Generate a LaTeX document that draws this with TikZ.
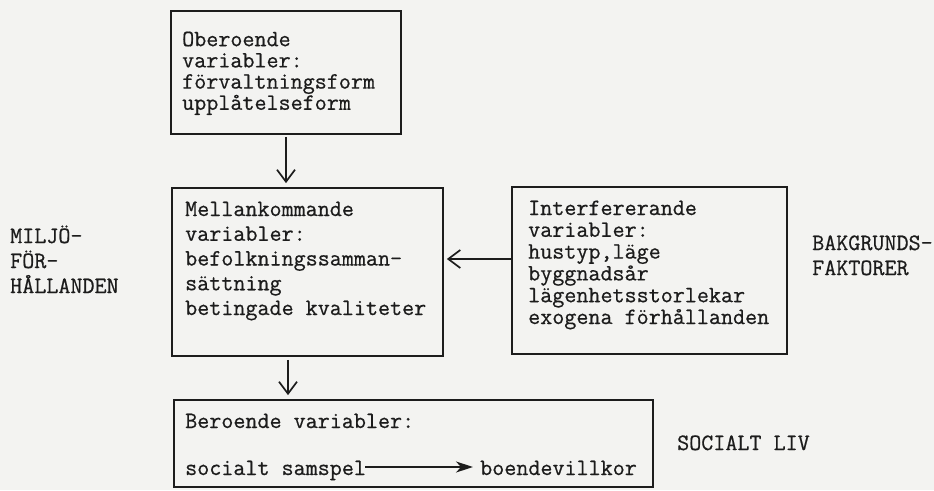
\documentclass[tikz,border=0pt]{standalone}
\usepackage{fontspec}
\usetikzlibrary{arrows.meta}
\definecolor{paper}{HTML}{F3F3F1}
\definecolor{ink}{HTML}{1C1C1C}
\newfontfamily\typewr{lmmono12-regular.otf}[FakeBold=0.6]
\newcommand\tyfont{\typewr\fontsize{23.4}{23}\selectfont}
\newcommand\stacklines[2]{\vtop{\baselineskip=#1\lineskiplimit=-\maxdimen\lineskip=0pt #2}}
\tikzset{
  box/.style={draw=ink, line width=1.8pt, rectangle, inner sep=0pt},
  txt/.style={anchor=base west, inner sep=0pt, font=\tyfont, text=ink},
  flow/.style={draw=ink, line width=1.7pt, -{Straight Barb[length=12pt,width=18pt,line width=1.7pt]}},
  inflow/.style={draw=ink, line width=1.4pt, -{Stealth[length=17pt,width=11pt,inset=5pt]}},
}
\begin{document}
\begin{tikzpicture}[x=1pt,y=-1pt]
\fill[paper] (0,0) rectangle (934,490);
\useasboundingbox (0,0) rectangle (934,490);

% boxes
\node[box, minimum width=230pt, minimum height=123pt] (top) at (286,72.5) {};
\node[box, minimum width=271pt, minimum height=168pt] (mid) at (307.5,272) {};
\node[box, minimum width=275pt, minimum height=167pt] (right) at (649.5,270.5) {};
\node[box, minimum width=479pt, minimum height=87pt] (bot) at (413.5,443.5) {};

% box texts
\node[txt] (toptext) at (182,46.2) {\stacklines{21.2pt}{\hbox{Oberoende}\hbox{variabler:}\hbox{förvaltningsform}\hbox{upplåtelseform}}};
\node[txt] (midtext) at (185,216) {\stacklines{24.75pt}{\hbox{Mellankommande}\hbox{variabler:}\hbox{befolkningssamman-}\hbox{sättning}\hbox{betingade kvaliteter}}};
\node[txt] (righttext) at (528,215) {\stacklines{21.8pt}{\hbox{Interfererande}\hbox{variabler:}\hbox{hustyp,läge}\hbox{byggnadsår}\hbox{lägenhetsstorlekar}\hbox{exogena förhållanden}}};
\node[txt] (bothead) at (185,428) {Beroende variabler:};
\node[txt] (ss) at (185,475) {socialt samspel};
\node[txt] (bv) at (480,475) {boendevillkor};

% side labels
\node[txt] (miljo) at (10,243) {\stacklines{25pt}{\hbox{MILJÖ-}\hbox{FÖR-}\hbox{HÅLLANDEN}}};
\node[txt] (bakgr) at (812,250) {\stacklines{25pt}{\hbox{BAKGRUNDS-}\hbox{FAKTORER}}};
\node[txt] (social) at (677,450) {SOCIALT LIV};

% connectors
\draw[flow, shorten <=2pt, shorten >=4pt] (top.south) -- (top.south |- mid.north);
\coordinate (ma) at ([xshift=2pt]top.south |- mid.south);
\draw[flow, shorten <=3pt, shorten >=4pt] (ma) -- (ma |- bot.north);
\coordinate (rj) at ([yshift=11.5pt]right.west);
\draw[flow, shorten >=3pt] (rj) -- (rj -| mid.east);
\draw[inflow, shorten <=-1pt, shorten >=7pt] ([yshift=8pt]ss.base east) -- ([yshift=8pt]bv.base west);
\end{tikzpicture}
\end{document}
